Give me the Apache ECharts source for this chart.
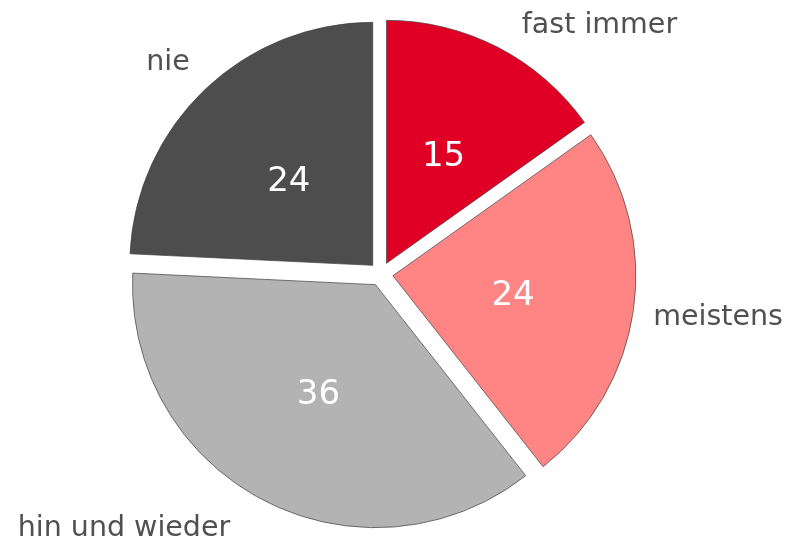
<!DOCTYPE html>
<html lang="de">
<head>
    <meta charset="UTF-8">
    <title>Pie</title>
    <script type="text/javascript" src="https://cdn.jsdelivr.net/npm/echarts@6/dist/echarts.min.js"></script>
</head>
<body style="margin:0">
<div id="main" style="width: 790px;height: 540px"></div>

<script>
    // Werte aus dem Diagramm
    var categories = ['fast immer', 'meistens', 'hin und wieder', 'nie'];
    var values = [15, 24, 36, 24];
    var colors = ['#e00025', '#ff8585', '#b3b3b3', '#4d4d4d'];

    // Länge der (unsichtbaren) Führungslinien je Beschriftung
    var lineLen = [27, 15, 27.6, 15];
    var lineLen2 = [6.6, 0, 16.3, 0];
    // kleine Verschiebungen der Beschriftungen
    var nameShiftY = [2, 5, 3, -16];
    var valueShiftX = [0, -3, 0, 2];
    var valueShiftY = [4, 3, 0, 7];

    var chartDom = document.getElementById('main');
    var myChart = echarts.init(chartDom);
    var option;

    var center = [381, 274];
    var radius = 243;
    var offset = 12;

    var sliceData = categories.map(function (name, i) {
        return {
            name: name,
            value: values[i],
            selected: true,
            itemStyle: {color: colors[i]}
        };
    });

    var nameData = categories.map(function (name, i) {
        return {
            name: name,
            value: values[i],
            selected: true,
            labelLine: {length: lineLen[i], length2: lineLen2[i]}
        };
    });

    option = {
        backgroundColor: '#ffffff',
        animation: false,
        series: [
            {
                type: 'pie',
                center: center,
                radius: radius,
                startAngle: 90,
                clockwise: true,
                selectedMode: 'multiple',
                selectedOffset: offset,
                avoidLabelOverlap: false,
                silent: true,
                itemStyle: {
                    borderColor: '#404040',
                    borderWidth: 0.7
                },
                label: {
                    show: true,
                    position: 'inside',
                    formatter: '{c}',
                    color: '#ffffff',
                    fontFamily: 'DejaVu Sans',
                    fontSize: 34
                },
                labelLine: {show: false},
                labelLayout: function (params) {
                    return {dx: valueShiftX[params.dataIndex], dy: valueShiftY[params.dataIndex]};
                },
                emphasis: {disabled: true},
                data: sliceData
            },
            {
                type: 'pie',
                center: center,
                radius: radius,
                startAngle: 90,
                clockwise: true,
                selectedMode: 'multiple',
                selectedOffset: offset,
                avoidLabelOverlap: false,
                silent: true,
                itemStyle: {
                    color: 'rgba(0,0,0,0)',
                    borderWidth: 0
                },
                label: {
                    show: true,
                    position: 'outside',
                    alignTo: 'none',
                    distanceToLabelLine: 5,
                    formatter: '{b}',
                    color: '#505050',
                    fontFamily: 'DejaVu Sans',
                    fontSize: 28.5
                },
                labelLine: {show: false},
                labelLayout: function (params) {
                    return {dy: nameShiftY[params.dataIndex]};
                },
                emphasis: {disabled: true},
                data: nameData
            }
        ]
    };

    myChart.setOption(option);
</script>
</body>
</html>
